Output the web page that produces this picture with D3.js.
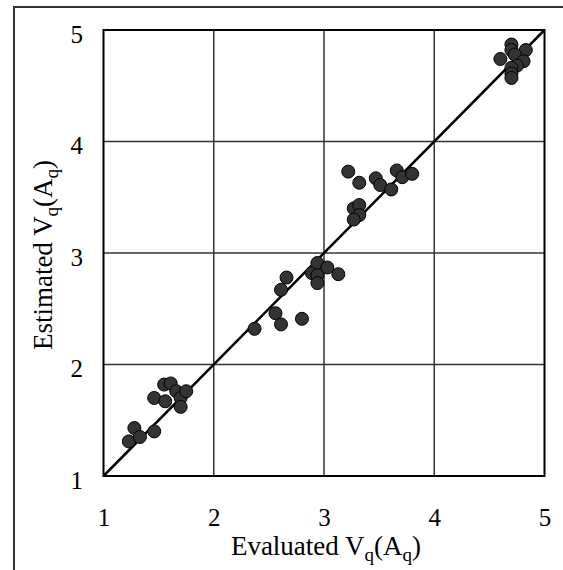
<!DOCTYPE html>
<html>
<head>
<meta charset="utf-8">
<script src="https://cdn.jsdelivr.net/npm/d3@7"></script>
<style>
  body { margin: 0; background: #fff; }
  text { font-family: "Liberation Serif", "Times New Roman", serif; fill: #000; }
</style>
</head>
<body>
<div id="chart"></div>
<script>
// values
var evaluated = [1.23, 1.28, 1.33, 1.46, 1.46, 1.56, 1.55, 1.61, 1.66, 1.70, 1.70, 1.75,
                 2.37, 2.56, 2.61, 2.80, 2.61, 2.66, 2.89, 2.94, 3.03, 2.94, 2.94, 3.13,
                 3.22, 3.32, 3.47, 3.51, 3.61, 3.66, 3.71, 3.80, 3.27, 3.32, 3.32, 3.27,
                 4.60, 4.70, 4.70, 4.83, 4.73, 4.81, 4.75, 4.70, 4.70, 4.70];
var estimated = [1.31, 1.43, 1.35, 1.40, 1.70, 1.67, 1.82, 1.83, 1.76, 1.70, 1.62, 1.76,
                 2.32, 2.46, 2.36, 2.41, 2.67, 2.78, 2.82, 2.91, 2.87, 2.80, 2.73, 2.81,
                 3.73, 3.63, 3.67, 3.61, 3.57, 3.74, 3.68, 3.71, 3.40, 3.43, 3.34, 3.30,
                 4.74, 4.87, 4.82, 4.82, 4.78, 4.72, 4.68, 4.66, 4.61, 4.57];
var tickValues = [1, 2, 3, 4, 5];
var gridValues = [2, 3, 4];
var xTitle = ["Evaluated V", "q", "(A", "q", ")"];
var yTitle = ["Estimated V", "q", "(A", "q", ")"];

var chart = (function () { // IIFE so names like "top" don't clash with window globals
    var width = 563, height = 570;
    var plotLeft = 103.5, plotRight = 544.5, plotTop = 30, plotBottom = 476;

    var svg = d3.select("#chart").append("svg")
        .attr("width", width)
        .attr("height", height);

    // outer frame (cut off at right and bottom)
    svg.append("path")
        .attr("d", "M14," + height + "V7H" + width)
        .attr("fill", "none")
        .attr("stroke", "#333")
        .attr("stroke-width", 2);

    var x = d3.scaleLinear().domain([1, 5]).range([plotLeft, plotRight]);
    var y = d3.scaleLinear().domain([1, 5]).range([plotBottom, plotTop]);

    // gridlines
    svg.append("g").selectAll("line")
        .data(gridValues)
        .enter().append("line")
        .attr("x1", function (d) { return x(d); })
        .attr("x2", function (d) { return x(d); })
        .attr("y1", plotTop).attr("y2", plotBottom)
        .attr("stroke", "#333").attr("stroke-width", 1.5);

    svg.append("g").selectAll("line")
        .data(gridValues)
        .enter().append("line")
        .attr("y1", function (d) { return y(d); })
        .attr("y2", function (d) { return y(d); })
        .attr("x1", plotLeft).attr("x2", plotRight)
        .attr("stroke", "#333").attr("stroke-width", 1.5);

    // axes (labels only)
    var axisX = svg.append("g")
        .attr("transform", "translate(0," + plotBottom + ")")
        .call(d3.axisBottom(x).tickValues(tickValues).tickSize(0).tickPadding(32).tickFormat(d3.format("d")));
    axisX.select(".domain").remove();
    axisX.selectAll("text")
        .attr("font-size", "25px")
        .attr("font-family", "Liberation Serif");

    var axisY = svg.append("g")
        .attr("transform", "translate(" + plotLeft + ",0)")
        .call(d3.axisLeft(y).tickValues(tickValues).tickSize(0).tickPadding(20.5).tickFormat(d3.format("d")));
    axisY.select(".domain").remove();
    axisY.selectAll("text")
        .attr("dy", "0.48em")
        .attr("font-size", "25px")
        .attr("font-family", "Liberation Serif");

    // plot border
    svg.append("rect")
        .attr("x", plotLeft).attr("y", plotTop)
        .attr("width", plotRight - plotLeft).attr("height", plotBottom - plotTop)
        .attr("fill", "none")
        .attr("stroke", "#000")
        .attr("stroke-width", 2);

    // 1:1 line
    svg.append("line")
        .attr("x1", x(1)).attr("y1", y(1))
        .attr("x2", x(5)).attr("y2", y(5))
        .attr("stroke", "#000")
        .attr("stroke-width", 2.5);

    // points
    svg.append("g").selectAll("circle")
        .data(evaluated)
        .enter().append("circle")
        .attr("cx", function (d) { return x(d); })
        .attr("cy", function (d, i) { return y(estimated[i]); })
        .attr("r", 6.5)
        .attr("fill", "#333")
        .attr("stroke", "#000")
        .attr("stroke-width", 1);

    // titles with subscripts
    function title(g, parts) {
        var t = g.append("text")
            .attr("text-anchor", "middle")
            .attr("font-size", "27px");
        parts.forEach(function (p, i) {
            var sub = (i % 2 == 1);
            t.append("tspan")
                .attr("font-size", sub ? "19px" : "27px")
                .attr("dy", sub ? 6 : (i > 0 ? -6 : 0))
                .text(p);
        });
        return t;
    }

    title(svg.append("g").attr("transform", "translate(" + ((plotLeft + plotRight) / 2 + 2) + ",555)"), xTitle);
    title(svg.append("g").attr("transform", "translate(52," + ((plotTop + plotBottom) / 2 + 2) + ") rotate(-90)"), yTitle);
})();
</script>
</body>
</html>
